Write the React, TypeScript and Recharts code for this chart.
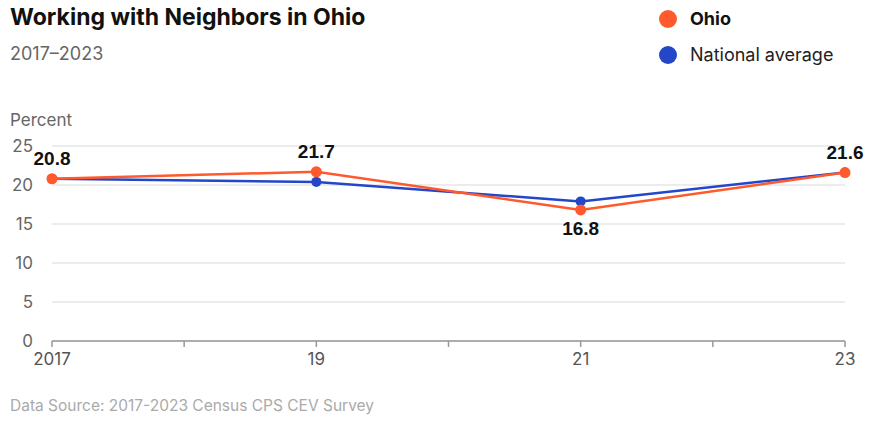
import React from "react";
import { LineChart, Line, XAxis, YAxis, CartesianGrid, LabelList } from "recharts";

const years = [2017, 2019, 2021, 2023];
const ohio = [20.8, 21.7, 16.8, 21.6];
const national = [20.8, 20.4, 17.9, 21.6];
const yTicks = [0, 5, 10, 15, 20, 25];
const xTicks = [2017, 2018, 2019, 2020, 2021, 2022, 2023];

const data = years.map((year, i) => ({ year, ohio: ohio[i], national: national[i] }));

const ORANGE = "#ff5a2e";
const BLUE = "#2446c8";
const FONT = "Inter, 'Liberation Sans', sans-serif";

const xLabel = (v: number) => {
  if (v === 2017) return "2017";
  if (v % 2 === 1) return String(v).slice(2);
  return "";
};

const XTick = ({ x, y, payload }: any) => (
  <text x={x} y={y + 16} textAnchor="middle" fontSize={17} fill="#555" fontFamily={FONT}>
    {xLabel(payload.value)}
  </text>
);

const YTick = ({ y, payload }: any) => (
  <text x={33} y={y + 6} textAnchor="end" fontSize={17} fill="#666" fontFamily={FONT}>
    {payload.value}
  </text>
);

const OhioLabel = ({ x, y, value, index }: any) => {
  const below = value < national[index];
  return (
    <text
      x={x}
      y={below ? y + 25 : y - 14}
      textAnchor="middle"
      fontSize={19}
      fontWeight={700}
      fill="#111"
      fontFamily="'Liberation Sans', Arial, sans-serif"
    >
      {value}
    </text>
  );
};

const App = () => {
  return (
    <div style={{ position: "absolute", left: 0, top: 0, width: 878, height: 439, background: "#fff", fontFamily: FONT }}>
      <div style={{ position: "absolute", left: 10, top: 3, fontSize: 23, fontWeight: 700, color: "#111" }}>
        Working with Neighbors in Ohio
      </div>
      <div style={{ position: "absolute", left: 10, top: 43, fontSize: 18, color: "#666" }}>2017–2023</div>
      <div style={{ position: "absolute", left: 10, top: 110, fontSize: 17, color: "#666" }}>Percent</div>

      <div style={{ position: "absolute", left: 659, top: 10, width: 18, height: 18, borderRadius: 9, background: ORANGE }} />
      <div style={{ position: "absolute", left: 690, top: 8, fontSize: 18, fontWeight: 700, color: "#111" }}>Ohio</div>
      <div style={{ position: "absolute", left: 659, top: 46, width: 18, height: 18, borderRadius: 9, background: BLUE }} />
      <div style={{ position: "absolute", left: 690, top: 44, fontSize: 18, color: "#222" }}>National average</div>

      <div style={{ position: "absolute", left: 10, top: 396, fontSize: 15.5, color: "#aaa" }}>
        Data Source: 2017-2023 Census CPS CEV Survey
      </div>

      <div style={{ position: "absolute", left: 0, top: 0 }}>
        <LineChart width={878} height={439} data={data} margin={{ top: 146, right: 33, bottom: 0, left: 10 }}>
          <CartesianGrid vertical={false} stroke="#e6e6e6" strokeWidth={1.5} />
          <XAxis
            dataKey="year"
            type="number"
            domain={[2017, 2023]}
            ticks={xTicks}
            interval={0}
            height={98}
            stroke="#999"
            strokeWidth={1.5}
            tickSize={6}
            tick={<XTick />}
          />
          <YAxis
            domain={[0, 25]}
            ticks={yTicks}
            width={42}
            axisLine={false}
            tickLine={false}
            tick={<YTick />}
          />
          <Line
            dataKey="national"
            stroke={BLUE}
            strokeWidth={2.5}
            dot={{ r: 5, fill: BLUE, stroke: BLUE, strokeWidth: 0 }}
            isAnimationActive={false}
          />
          <Line
            dataKey="ohio"
            stroke={ORANGE}
            strokeWidth={2.5}
            dot={{ r: 5.5, fill: ORANGE, stroke: ORANGE, strokeWidth: 0 }}
            isAnimationActive={false}
          >
            <LabelList dataKey="ohio" content={<OhioLabel />} />
          </Line>
        </LineChart>
      </div>
    </div>
  );
};

export default App;
